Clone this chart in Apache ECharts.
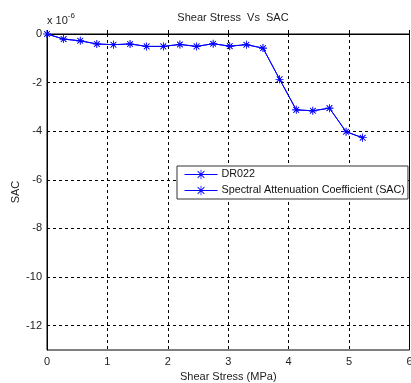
<!DOCTYPE html>
<html>
<head>
<meta charset="utf-8">
<script src="https://cdn.jsdelivr.net/npm/echarts@6/dist/echarts.min.js"></script>
<style>
  html, body { margin: 0; padding: 0; background: #fff; }
  #chart { width: 411px; height: 383px; }
</style>
</head>
<body>
<div id="chart"></div>
<script>
// Shear stress (MPa) sample positions
const shearStress = [0, 0.275, 0.55, 0.825, 1.1, 1.375, 1.65, 1.925, 2.2, 2.475,
                     2.75, 3.025, 3.3, 3.575, 3.85, 4.125, 4.4, 4.675, 4.95, 5.225];
// Spectral attenuation coefficient, in units of 1e-6
const sacValues = [0, -0.21, -0.28, -0.41, -0.44, -0.41, -0.51, -0.51, -0.43, -0.51,
                   -0.40, -0.50, -0.44, -0.58, -1.86, -3.12, -3.16, -3.05, -4.02, -4.27];
const seriesNames = ['DR022', 'Spectral Attenuation Coefficient (SAC)'];
const xTicks = [0, 1, 2, 3, 4, 5, 6];
const yTicks = [0, -2, -4, -6, -8, -10, -12];

const FONT = '"Liberation Sans", Arial, sans-serif';
const BLUE = '#0000ff';

// asterisk marker: vertical, horizontal and two diagonal strokes
const asterisk = 'path://M4.6,0 L5.4,0 L5.4,10 L4.6,10 Z M0,4.6 L10,4.6 L10,5.4 L0,5.4 Z ' +
  'M1.2,1.8 L1.8,1.2 L8.8,8.2 L8.2,8.8 Z M8.2,1.2 L8.8,1.8 L1.8,8.8 L1.2,8.2 Z';

const points = shearStress.map((x, i) => [x, sacValues[i]]);

const chart = echarts.init(document.getElementById('chart'), null, { renderer: 'canvas' });

const lineSeries = (name, withGrid) => ({
  name: name,
  type: 'line',
  data: points,
  symbol: asterisk,
  symbolSize: 8,
  showSymbol: true,
  itemStyle: { color: BLUE },
  lineStyle: { color: BLUE, width: 1 },
  emphasis: { disabled: true },
  animation: false,
  z: 3,
  markLine: withGrid ? {
    silent: true,
    symbol: 'none',
    label: { show: false },
    lineStyle: { color: '#000', type: [3, 3], width: 1 },
    data: yTicks.map(v => ({ yAxis: v })),
    animation: false,
    z: 1
  } : undefined
});

chart.setOption({
  backgroundColor: '#fff',
  animation: false,
  title: {
    text: 'Shear Stress  Vs  SAC',
    left: 228, top: 7, textAlign: 'center',
    textStyle: { fontFamily: FONT, fontSize: 11, fontWeight: 'normal', color: '#222' }
  },
  graphic: [{
    type: 'text',
    left: 47, top: 12,
    style: {
      text: '{b|x 10}{s|-6}',
      rich: {
        b: { fontFamily: FONT, fontSize: 11, fill: '#222', verticalAlign: 'bottom' },
        s: { fontFamily: FONT, fontSize: 8, fill: '#222', verticalAlign: 'top', padding: [0, 0, 6, 0] }
      }
    }
  }],
  legend: {
    data: seriesNames,
    orient: 'vertical',
    left: 177, top: 166,
    backgroundColor: '#fff',
    borderColor: '#333', borderWidth: 1,
    padding: [3, 3, 3, 7],
    itemGap: 5,
    itemWidth: 33, itemHeight: 12,
    lineStyle: { width: 1 },
    textStyle: { fontFamily: FONT, fontSize: 10.8, color: '#111', padding: [0, 0, 0, -1] },
    selectedMode: false
  },
  grid: {
    left: 47, right: 1.5, top: 34, bottom: 33,
    show: true, borderColor: '#000', borderWidth: 1,
    containLabel: false, outerBoundsMode: 'none'
  },
  xAxis: {
    type: 'value', min: xTicks[0], max: xTicks[xTicks.length - 1], interval: 1,
    name: 'Shear Stress (MPa)', nameLocation: 'middle', nameGap: 21,
    nameTextStyle: { fontFamily: FONT, fontSize: 11, color: '#222' },
    axisLine: { show: true, lineStyle: { color: '#000' } },
    axisTick: { show: true, inside: true, length: 4, lineStyle: { color: '#000' } },
    axisLabel: { fontFamily: FONT, fontSize: 11, color: '#222', margin: 6 },
    splitLine: { show: true, lineStyle: { color: '#000', type: [3, 3] } }
  },
  yAxis: {
    type: 'value', min: -13, max: 0, interval: 1,
    name: 'SAC', nameLocation: 'middle', nameGap: 26, nameMoveOverlap: false,
    nameTextStyle: { fontFamily: FONT, fontSize: 11, color: '#222' },
    axisLine: { show: true, lineStyle: { color: '#000' } },
    axisTick: { show: false },
    axisLabel: {
      fontFamily: FONT, fontSize: 11, color: '#222', margin: 5,
      formatter: v => (yTicks.indexOf(v) >= 0 ? String(v) : '')
    },
    splitLine: { show: false }
  },
  series: [lineSeries(seriesNames[0], true), lineSeries(seriesNames[1], false)]
});
</script>
</body>
</html>
